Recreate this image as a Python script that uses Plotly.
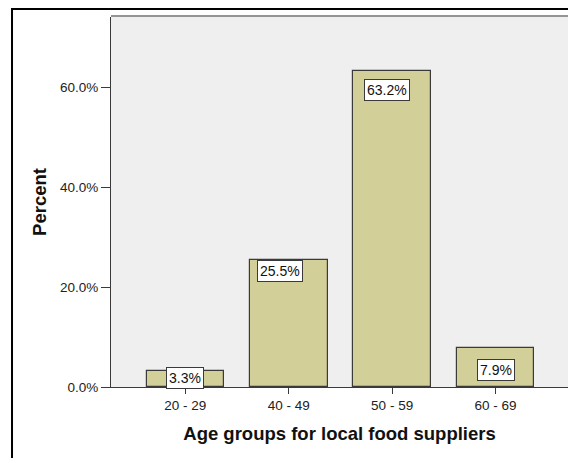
import plotly.graph_objects as go

# Age-group distribution of local food suppliers
age_groups = ["20 - 29", "40 - 49", "50 - 59", "60 - 69"]
percent = [3.3, 25.5, 63.2, 7.9]
y_ticks = [0, 20, 40, 60]

# label box offsets (pixels) relative to each bar top
label_dy = [-7, -11.5, -19, -22.5]
label_dx = [0, -9, -5, 0]

FONT = "Liberation Sans, Arial, sans-serif"
BAR = "#D3CF98"
EDGE = "#3A3A3A"

fig = go.Figure()
fig.add_trace(go.Bar(
    x=list(range(len(age_groups))),
    y=percent,
    width=0.75,
    marker=dict(color=BAR, line=dict(color=EDGE, width=1.2)),
    hoverinfo="skip",
    showlegend=False,
))

for i, v in enumerate(percent):
    fig.add_annotation(
        x=i, y=v, xref="x", yref="y",
        text=f"{v:.1f}%",
        showarrow=False,
        xshift=label_dx[i], yshift=label_dy[i],
        bgcolor="white", bordercolor=EDGE, borderwidth=1, borderpad=2,
        font=dict(family=FONT, size=14, color="#111111"),
    )

# outer chart frame
fig.add_shape(type="rect", xref="paper", yref="paper",
              x0=-0.2166, x1=1.05, y0=-0.3, y1=1.0216,
              line=dict(color="black", width=2), fillcolor="rgba(0,0,0,0)",
              layer="below")
# top border of the data region
fig.add_shape(type="line", xref="paper", yref="paper",
              x0=0, x1=1, y0=1.003, y1=1.003,
              line=dict(color="#707070", width=1.5))

fig.update_layout(
    width=568, height=458,
    margin=dict(l=111, r=0, t=17, b=71),
    paper_bgcolor="white",
    plot_bgcolor="#EFEFEF",
    font=dict(family=FONT, size=13, color="#222222"),
    bargap=0,
    xaxis=dict(
        range=[-0.719, 3.701],
        tickmode="array",
        tickvals=list(range(len(age_groups))),
        ticktext=age_groups,
        ticks="outside", ticklen=6, tickwidth=1.2, tickcolor=EDGE,
        showline=True, linecolor=EDGE, linewidth=1.2,
        showgrid=False, zeroline=False,
        tickfont=dict(size=13.5, color="#222222"),
        title=dict(text="<b>Age groups for local food suppliers</b>",
                   font=dict(size=18.5, color="#111111"), standoff=14),
    ),
    yaxis=dict(
        range=[0, 74],
        tickmode="array",
        tickvals=y_ticks,
        ticktext=[f"{t:.1f}%" for t in y_ticks],
        ticks="outside", ticklen=9, tickwidth=1.2, tickcolor=EDGE,
        showline=True, linecolor=EDGE, linewidth=1.2,
        showgrid=False, zeroline=False,
        tickfont=dict(size=13.5, color="#222222"),
        title=dict(text="<b>Percent</b>",
                   font=dict(size=18.5, color="#111111"), standoff=8),
    ),
)

fig.write_html("out.html")
